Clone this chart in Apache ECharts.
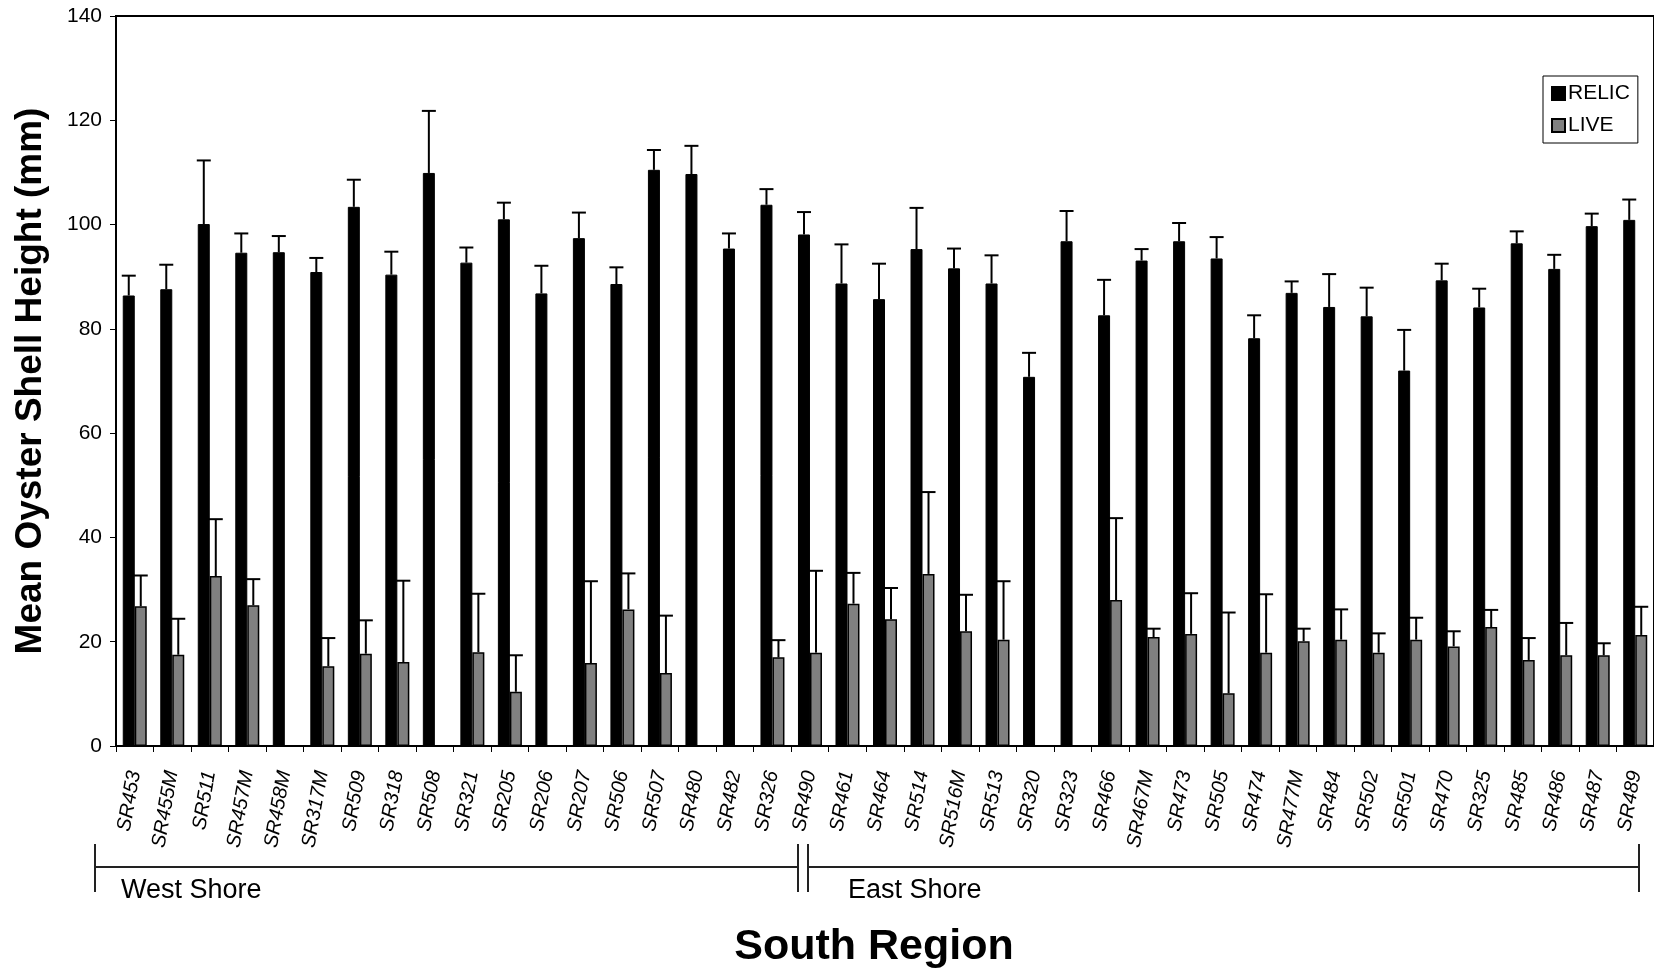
<!DOCTYPE html>
<html>
<head>
<meta charset="utf-8">
<script src="https://cdn.jsdelivr.net/npm/echarts@6/dist/echarts.min.js"></script>
<style>
  html, body { margin: 0; padding: 0; background: #fff; }
  #chart { width: 1654px; height: 970px; }
</style>
</head>
<body>
<div id="chart"></div>
<script>
// Sampling sites, South Region (West Shore first, then East Shore)
const sites = [
  'SR453', 'SR455M', 'SR511', 'SR457M', 'SR458M', 'SR317M', 'SR509', 'SR318', 'SR508', 'SR321',
  'SR205', 'SR206', 'SR207', 'SR506', 'SR507', 'SR480', 'SR482', 'SR326', 'SR490',
  'SR461', 'SR464', 'SR514', 'SR516M', 'SR513', 'SR320', 'SR323', 'SR466', 'SR467M', 'SR473',
  'SR505', 'SR474', 'SR477M', 'SR484', 'SR502', 'SR501', 'SR470', 'SR325', 'SR485', 'SR486',
  'SR487', 'SR489'
];

// Mean shell height (mm) of relic shells and the standard deviation
const relicMean = [
  86.4, 87.6, 100.1, 94.6, 94.7, 90.9, 103.4, 90.4, 109.9, 92.7,
  101.0, 86.8, 97.4, 88.6, 110.5, 109.7, 95.4, 103.8, 98.1,
  88.7, 85.7, 95.3, 91.6, 88.7, 70.8, 96.8, 82.6, 93.1, 96.8,
  93.5, 78.2, 86.9, 84.2, 82.4, 72.0, 89.3, 84.1, 96.4, 91.5,
  99.7, 100.9
];
const relicSD = [
  3.8, 4.7, 12.2, 3.7, 3.1, 2.7, 5.2, 4.4, 11.9, 2.9,
  3.2, 5.3, 4.9, 3.2, 3.8, 5.4, 2.9, 3.0, 4.3,
  7.5, 6.8, 7.9, 3.8, 5.4, 4.6, 5.8, 6.8, 2.2, 3.5,
  4.1, 4.4, 2.2, 6.3, 5.5, 7.8, 3.2, 3.6, 2.3, 2.7,
  2.4, 3.9
];

// Mean shell height (mm) of live oysters (null = none collected)
const liveMean = [
  26.8, 17.5, 32.6, 27.0, null, 15.3, 17.7, 16.1, null, 18.0,
  10.4, null, 15.9, 26.2, 14.0, null, null, 17.0, 17.9,
  27.3, 24.3, 33.0, 22.0, 20.4, null, null, 28.0, 20.9, 21.5,
  10.1, 17.9, 20.1, 20.4, 17.9, 20.4, 19.1, 22.8, 16.5, 17.4,
  17.4, 21.3
];
const liveSD = [
  5.9, 6.9, 10.9, 5.0, null, 5.4, 6.4, 15.6, null, 11.2,
  7.0, null, 15.7, 6.9, 11.0, null, null, 3.3, 15.7,
  5.9, 6.0, 15.7, 7.0, 11.2, null, null, 15.7, 1.6, 7.8,
  15.5, 11.2, 2.4, 5.8, 3.7, 4.2, 2.9, 3.3, 4.2, 6.2,
  2.3, 5.4
];

const yTicks = { min: 0, max: 140, step: 20 };

const FONT = "'Liberation Sans', Arial, Helvetica, sans-serif";
const BAR_W = 12;

function errorData(means, sds) {
  const out = [];
  means.forEach((m, i) => {
    if (m != null && sds[i] != null) out.push([i, m, m + sds[i]]);
  });
  return out;
}

// Upper-only error bar with a short cap, centred on its bar
function errorRenderer(offset) {
  return function (params, api) {
    const i = api.value(0);
    const base = api.coord([i, api.value(1)]);
    const top = api.coord([i, api.value(2)]);
    const x = base[0] + offset;
    const half = 7;
    return {
      type: 'group',
      children: [
        { type: 'line', shape: { x1: x, y1: base[1], x2: x, y2: top[1] },
          style: { stroke: '#000', lineWidth: 2 } },
        { type: 'line', shape: { x1: x - half, y1: top[1], x2: x + half, y2: top[1] },
          style: { stroke: '#000', lineWidth: 2 } }
      ]
    };
  };
}

const chart = echarts.init(document.getElementById('chart'), null, { renderer: 'canvas' });

const option = {
  animation: false,
  backgroundColor: '#fff',
  textStyle: { fontFamily: FONT, color: '#000' },
  grid: {
    left: 116, top: 16, right: -3, bottom: 224,
    show: true, borderColor: '#000', borderWidth: 2, backgroundColor: 'transparent'
  },
  legend: {
    orient: 'vertical',
    left: 1543, top: 76,
    padding: [7, 8, 7, 8],
    itemGap: 11,
    itemWidth: 13, itemHeight: 13,
    backgroundColor: '#fff',
    borderColor: '#000', borderWidth: 1,
    textStyle: { fontFamily: FONT, fontSize: 21, color: '#000', padding: [0, 0, 0, -2] },
    data: [
      { name: 'RELIC', icon: 'rect' },
      { name: 'LIVE', icon: 'rect' }
    ]
  },
  xAxis: {
    type: 'category',
    data: sites,
    axisLine: { lineStyle: { color: '#000', width: 2 } },
    axisTick: { show: true, interval: 0, length: 6, lineStyle: { color: '#000', width: 1 } },
    axisLabel: {
      interval: 0, rotate: 80, margin: 25,
      fontFamily: FONT, fontSize: 20, fontStyle: 'italic', color: '#000'
    },
    splitLine: { show: false }
  },
  yAxis: {
    type: 'value',
    min: yTicks.min, max: yTicks.max, interval: yTicks.step,
    name: 'Mean Oyster Shell Height (mm)',
    nameLocation: 'middle',
    nameGap: 67,
    nameTextStyle: { fontFamily: FONT, fontSize: 37, fontWeight: 'bold', color: '#000' },
    axisLine: { show: true, lineStyle: { color: '#000', width: 2 } },
    axisTick: { show: true, length: 6, lineStyle: { color: '#000', width: 1 } },
    axisLabel: { fontFamily: FONT, fontSize: 21, color: '#000', margin: 14 },
    splitLine: { show: false }
  },
  series: [
    {
      name: 'RELIC', type: 'bar', data: relicMean, barWidth: BAR_W, barGap: '0%',
      itemStyle: { color: '#000', borderColor: '#000', borderWidth: 1 }
    },
    {
      name: 'LIVE', type: 'bar', data: liveMean, barWidth: BAR_W, barGap: '0%',
      itemStyle: { color: '#808080', borderColor: '#000', borderWidth: 1.5 }
    },
    {
      type: 'custom', name: 'RELIC SD', z: 5,
      renderItem: errorRenderer(-BAR_W / 2),
      data: errorData(relicMean, relicSD),
      encode: { x: 0, y: [1, 2] }, silent: true
    },
    {
      type: 'custom', name: 'LIVE SD', z: 5,
      renderItem: errorRenderer(BAR_W / 2),
      data: errorData(liveMean, liveSD),
      encode: { x: 0, y: [1, 2] }, silent: true
    }
  ],
  graphic: [
    // West Shore bracket
    { type: 'polyline', shape: { points: [[95, 844], [95, 892]] }, style: { stroke: '#222', lineWidth: 2 } },
    { type: 'polyline', shape: { points: [[95, 867], [798, 867]] }, style: { stroke: '#222', lineWidth: 2 } },
    { type: 'polyline', shape: { points: [[798, 844], [798, 892]] }, style: { stroke: '#222', lineWidth: 2 } },
    // East Shore bracket
    { type: 'polyline', shape: { points: [[808, 844], [808, 892]] }, style: { stroke: '#222', lineWidth: 2 } },
    { type: 'polyline', shape: { points: [[808, 867], [1639, 867]] }, style: { stroke: '#222', lineWidth: 2 } },
    { type: 'polyline', shape: { points: [[1639, 844], [1639, 892]] }, style: { stroke: '#222', lineWidth: 2 } },
    { type: 'text', left: 121, top: 877,
      style: { text: 'West Shore', font: '27px ' + FONT, fill: '#000' } },
    { type: 'text', left: 848, top: 877,
      style: { text: 'East Shore', font: '27px ' + FONT, fill: '#000' } },
    { type: 'text', x: 874, y: 947,
      style: { text: 'South Region', font: 'bold 43px ' + FONT, fill: '#000',
               textAlign: 'center', textVerticalAlign: 'middle' } }
  ]
};

chart.setOption(option);
</script>
</body>
</html>
